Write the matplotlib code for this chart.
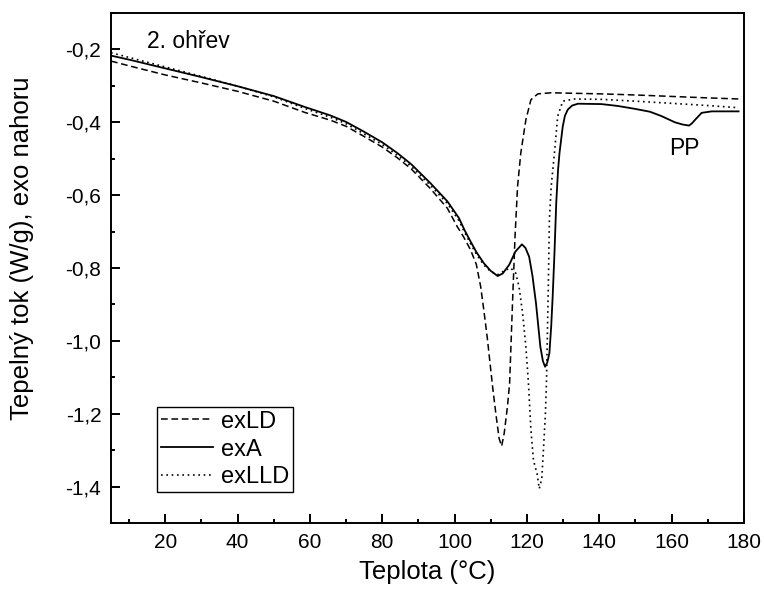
import matplotlib
matplotlib.use("Agg")
import matplotlib.pyplot as plt
from matplotlib.ticker import MultipleLocator, FuncFormatter

plt.rcParams['font.family'] = ['Liberation Sans', 'DejaVu Sans']
plt.rcParams['axes.unicode_minus'] = False

# ---- data ----
exA_x = [5, 10, 20, 30, 40, 50, 58.6, 65.6, 70, 74.8, 80, 84.1, 88, 93.3, 98, 101.2,
         102.8, 104.4, 106, 107.2, 108.1, 110, 111.9, 113.3, 115.1, 116.8, 118.6, 119.6,
         120.6, 121.5, 122.5, 123.7, 124.4, 125.0, 125.6, 126.2, 126.7, 127.1, 127.6,
         128.1, 128.6, 129.0, 129.9, 130.5, 131.3, 132.5, 134.1, 140.6, 145, 149.8, 154,
         157.2, 160.9, 163, 164.8, 165.6, 166.5, 168.3, 171.1, 175, 178.5]
exA_y = [-0.217, -0.228, -0.252, -0.276, -0.301, -0.328, -0.358, -0.381, -0.399, -0.425,
         -0.455, -0.484, -0.515, -0.567, -0.617, -0.663, -0.697, -0.727, -0.756, -0.774,
         -0.787, -0.808, -0.822, -0.815, -0.791, -0.755, -0.735, -0.745, -0.769, -0.820,
         -0.897, -1.016, -1.055, -1.071, -1.060, -1.034, -0.960, -0.880, -0.760, -0.620,
         -0.530, -0.484, -0.411, -0.382, -0.365, -0.354, -0.349, -0.350, -0.355, -0.363,
         -0.371, -0.383, -0.400, -0.406, -0.409, -0.403, -0.393, -0.374, -0.370, -0.370,
         -0.370]

exLD_x = [5, 10, 20, 30, 40, 50, 58.6, 65.6, 70, 74.8, 80, 84.1, 88, 93.3, 98, 100.7,
          102.5, 104.4, 106, 107.2, 108, 109, 110.5, 111.4, 112.3, 113.0, 113.7, 114.6,
          115.2, 116, 116.7, 117.4, 118.3, 119.7, 121.1, 123, 126.7, 140.6, 150, 160,
          170, 178.5]
exLD_y = [-0.232, -0.245, -0.270, -0.292, -0.315, -0.342, -0.373, -0.394, -0.411, -0.438,
          -0.468, -0.497, -0.528, -0.582, -0.636, -0.686, -0.715, -0.750, -0.790, -0.851,
          -0.910, -0.989, -1.126, -1.200, -1.268, -1.289, -1.254, -1.181, -1.117, -0.897,
          -0.714, -0.576, -0.484, -0.393, -0.338, -0.322, -0.319, -0.322, -0.325, -0.329,
          -0.333, -0.336]

exLLD_x = [5, 10, 20, 30, 40, 50, 58.6, 65.6, 70, 74.8, 80, 84.1, 88, 93.3, 98, 101.2,
           102.8, 104.4, 106, 108.1, 110, 112, 114, 115.5, 116.9, 117.8, 118.8, 119.7,
           120.4, 121.1, 121.8, 122.8, 123.4, 124.1, 124.6, 125.1, 125.4, 125.9, 126.2,
           126.7, 127.6, 128.5, 129.9, 133.1, 140.6, 150, 160, 170, 178.5]
exLLD_y = [-0.209, -0.222, -0.248, -0.274, -0.301, -0.330, -0.362, -0.386, -0.404, -0.431,
           -0.461, -0.490, -0.521, -0.573, -0.623, -0.670, -0.703, -0.733, -0.762, -0.792,
           -0.810, -0.818, -0.806, -0.800, -0.814, -0.851, -0.924, -1.016, -1.115, -1.245,
           -1.328, -1.365, -1.406, -1.378, -1.291, -1.200, -1.110, -0.851, -0.668, -0.576,
           -0.484, -0.383, -0.342, -0.336, -0.337, -0.342, -0.348, -0.354, -0.360]

series_labels = ["exLD", "exA", "exLLD"]
x_label = "Teplota (°C)"
y_label = "Tepelný tok (W/g), exo nahoru"
note_text = "2. ohřev"
pp_text = "PP"

# ---- figure ----
fig = plt.figure(figsize=(7.64, 5.94), dpi=100)
ax = fig.add_axes([0.1453, 0.1195, 0.8285, 0.8586])

ax.plot(exLD_x, exLD_y, color='black', lw=1.1, linestyle=(0, (4.4, 2.4)), label=series_labels[0])
ax.plot(exA_x, exA_y, color='black', lw=1.3, linestyle='-', label=series_labels[1])
ax.plot(exLLD_x, exLLD_y, color='black', lw=1.2, linestyle=(0, (1, 2.2)), label=series_labels[2])

ax.set_xlim(5, 180)
ax.set_ylim(-1.5, -0.1)

ax.xaxis.set_major_locator(MultipleLocator(20))
ax.xaxis.set_minor_locator(MultipleLocator(10))
ax.yaxis.set_major_locator(MultipleLocator(0.2))
ax.yaxis.set_minor_locator(MultipleLocator(0.1))

ax.yaxis.set_major_formatter(FuncFormatter(lambda v, p: ("%.1f" % v).replace('.', ',')))
ax.xaxis.set_major_formatter(FuncFormatter(lambda v, p: "%d" % round(v)))

ax.tick_params(which='both', direction='in', top=False, right=False, width=1.4,
               labelsize=15, pad=7)
ax.tick_params(which='major', length=6.7)
ax.tick_params(which='minor', length=3.2)

for s in ax.spines.values():
    s.set_linewidth(1.4)

ax.set_xlabel(x_label, fontsize=18.5, labelpad=6)
ax.set_ylabel(y_label, fontsize=18.5)
ax.yaxis.set_label_coords(-0.121, 0.539)

ax.text(14.9, -0.197, note_text, fontsize=16.5, va='baseline', ha='left')
ax.text(159.4, -0.489, pp_text, fontsize=16.5, va='baseline', ha='left')

leg = ax.legend(loc='lower left', bbox_to_anchor=(0.0727, 0.0608), fontsize=17,
                frameon=True, fancybox=False, shadow=False, framealpha=1,
                edgecolor='black', borderpad=0.15, labelspacing=0.25,
                handlelength=2.2, handletextpad=0.35, borderaxespad=0)
leg.get_frame().set_linewidth(1.0)

fig.savefig("out.png", dpi=100)
